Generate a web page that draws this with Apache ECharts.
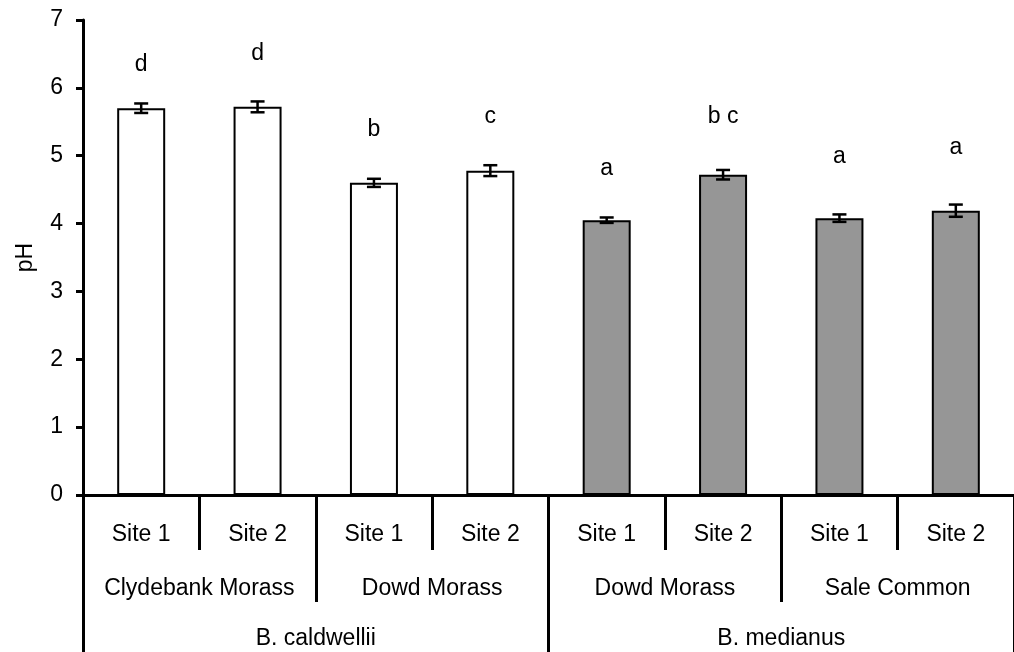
<!DOCTYPE html>
<html>
<head>
<meta charset="utf-8">
<script src="https://cdn.jsdelivr.net/npm/echarts@6/dist/echarts.min.js"></script>
<style>
  html, body { margin: 0; padding: 0; background: #fff; }
  #chart { width: 1014px; height: 652px; }
</style>
</head>
<body>
<div id="chart"></div>
<script>
// Site labels (first row), site groups (second row), species (third row)
const sites = ['Site 1', 'Site 2', 'Site 1', 'Site 2', 'Site 1', 'Site 2', 'Site 1', 'Site 2'];
const locations = ['Clydebank Morass', 'Dowd Morass', 'Dowd Morass', 'Sale Common'];
const species = ['B. caldwellii', 'B. medianus'];

// Mean pH and standard error per site
const phMean = [5.70, 5.72, 4.60, 4.78, 4.05, 4.72, 4.08, 4.19];
const phErr = [0.07, 0.08, 0.06, 0.08, 0.04, 0.07, 0.055, 0.09];

// Significance letters and the pH level each is written at
const sigLetters = ['d', 'd', 'b', 'c', 'a', 'b c', 'a', 'a'];
const letterLevel = [6.34, 6.50, 5.38, 5.58, 4.81, 5.58, 4.99, 5.12];

// Species index per site (0 = B. caldwellii, 1 = B. medianus)
const speciesOf = [0, 0, 0, 0, 1, 1, 1, 1];
const barFill = ['#ffffff', '#969696'];

const yTicks = [0, 1, 2, 3, 4, 5, 6, 7];

const FONT = '"Liberation Sans", Arial, sans-serif';
const FS = 23;

const chart = echarts.init(document.getElementById('chart'));

const baseX = {
  type: 'category',
  position: 'bottom',
  boundaryGap: true,
  axisLine: { show: false },
  splitLine: { show: false },
  axisTick: { show: true, alignWithLabel: false, interval: 0, lineStyle: { color: '#000', width: 3 } },
  axisLabel: { interval: 0, color: '#000', fontFamily: FONT, fontSize: FS }
};

chart.setOption({
  animation: false,
  backgroundColor: '#fff',
  grid: { left: 83, right: -9, top: 20, bottom: 157, containLabel: false },
  xAxis: [
    Object.assign({}, baseX, {
      data: sites,
      axisLine: { show: true, lineStyle: { color: '#000', width: 3 } },
      axisTick: Object.assign({}, baseX.axisTick, { length: 55 }),
      axisLabel: Object.assign({}, baseX.axisLabel, { margin: 28 })
    }),
    Object.assign({}, baseX, {
      data: locations,
      axisTick: Object.assign({}, baseX.axisTick, { length: 107 }),
      axisLabel: Object.assign({}, baseX.axisLabel, { margin: 82 })
    }),
    Object.assign({}, baseX, {
      data: species,
      axisTick: Object.assign({}, baseX.axisTick, { length: 157 }),
      axisLabel: Object.assign({}, baseX.axisLabel, { margin: 132 })
    })
  ],
  yAxis: {
    type: 'value',
    min: yTicks[0],
    max: yTicks[yTicks.length - 1],
    interval: 1,
    name: 'pH',
    nameLocation: 'middle',
    nameGap: 46,
    nameRotate: 90,
    nameTextStyle: { color: '#000', fontFamily: FONT, fontSize: FS },
    axisLine: { show: true, lineStyle: { color: '#000', width: 3 } },
    axisTick: { show: true, length: 7, inside: false, lineStyle: { color: '#000', width: 3 } },
    splitLine: { show: false },
    axisLabel: { color: '#000', fontFamily: FONT, fontSize: FS, margin: 20 }
  },
  series: [
    {
      type: 'bar',
      xAxisIndex: 0,
      barWidth: 48,
      data: phMean.map((v, i) => ({
        value: v,
        itemStyle: { color: barFill[speciesOf[i]], borderColor: '#000', borderWidth: 2 }
      })),
      z: 2
    },
    {
      type: 'custom',
      xAxisIndex: 0,
      data: phMean.map((v, i) => [i, v - phErr[i], v + phErr[i]]),
      renderItem: function (params, api) {
        const lo = api.coord([api.value(0), api.value(1)]);
        const hi = api.coord([api.value(0), api.value(2)]);
        const half = 7;
        const style = { stroke: '#000', lineWidth: 2.5, fill: null };
        return {
          type: 'group',
          children: [
            { type: 'line', shape: { x1: hi[0], y1: hi[1], x2: lo[0], y2: lo[1] }, style: style },
            { type: 'line', shape: { x1: hi[0] - half, y1: hi[1], x2: hi[0] + half, y2: hi[1] }, style: style },
            { type: 'line', shape: { x1: lo[0] - half, y1: lo[1], x2: lo[0] + half, y2: lo[1] }, style: style }
          ]
        };
      },
      z: 3
    },
    {
      type: 'scatter',
      xAxisIndex: 0,
      symbolSize: 0,
      itemStyle: { opacity: 1, color: 'rgba(0,0,0,0)' },
      data: letterLevel,
      label: {
        show: true,
        position: 'inside',
        color: '#000',
        opacity: 1,
        fontFamily: FONT,
        fontSize: FS,
        formatter: p => sigLetters[p.dataIndex]
      },
      z: 4
    }
  ]
});
</script>
</body>
</html>
